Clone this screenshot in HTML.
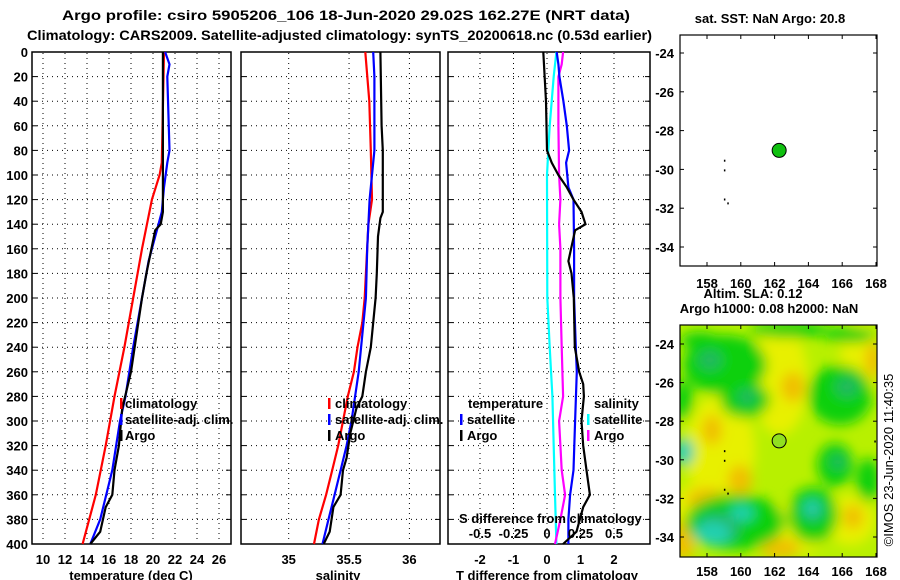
<!DOCTYPE html>
<html><head><meta charset="utf-8"><style>
body{margin:0;background:#fff;}
svg{display:block;font-family:"Liberation Sans",sans-serif;font-weight:bold;font-size:13px;}
</style></head><body>
<svg id="c" width="900" height="580" viewBox="0 0 900 580">
<defs>
<filter id="blur" x="-20%" y="-20%" width="140%" height="140%"><feGaussianBlur stdDeviation="6"/></filter>
<clipPath id="mapclip"><rect x="680" y="325" width="197" height="232"/></clipPath>
</defs>
<text x="62" y="20" textLength="568" lengthAdjust="spacingAndGlyphs" font-size="14">Argo profile: csiro 5905206_106 18-Jun-2020 29.02S 162.27E (NRT data)</text>
<text x="27" y="40" textLength="625" lengthAdjust="spacingAndGlyphs" font-size="14">Climatology: CARS2009. Satellite-adjusted climatology: synTS_20200618.nc (0.53d earlier)</text>
<g id="g"></g>
</svg>
<script>
// temperature profiles (depth, value)
const tClimD=[0,90,100,120,160,200,240,280,320,360,400];
const tClim=[21.0,20.8,20.6,19.9,19.0,18.2,17.4,16.5,15.7,14.8,13.6];
const tSatD=[0,5,10,20,50,80,90,110,130,150,170,200,240,280,300,340,380,400];
const tSat=[21.1,21.3,21.5,21.3,21.4,21.5,21.3,21.0,20.8,20.2,19.6,19.0,18.2,17.5,17.0,16.3,15.2,14.3];
const tArgoD=[0,130,140,145,180,200,230,260,290,320,340,360,370,390,400];
const tArgo=[20.9,20.9,20.7,20.2,19.4,19.0,18.5,18.0,17.2,16.9,16.5,16.3,15.7,15.2,14.3];
// salinity profiles
const sClimD=[0,40,80,120,140,180,200,220,240,260,280,300,320,340,360,380,400];
const sClim=[35.635,35.668,35.68,35.69,35.66,35.64,35.63,35.61,35.57,35.54,35.49,35.45,35.41,35.36,35.31,35.25,35.21];
const sSatD=[0,20,60,80,100,120,160,200,220,240,260,280,300,320,340,360,380,400];
const sSat=[35.70,35.71,35.71,35.71,35.69,35.67,35.65,35.64,35.62,35.60,35.58,35.55,35.52,35.48,35.43,35.38,35.33,35.28];
const sArgoD=[0,60,80,120,130,135,150,180,200,220,240,260,280,290,310,330,340,360,370,390,400];
const sArgo=[35.76,35.77,35.78,35.78,35.78,35.76,35.74,35.73,35.72,35.70,35.68,35.64,35.61,35.56,35.51,35.48,35.45,35.43,35.37,35.34,35.29];
// differences
const dTArgoD=[0,40,80,90,100,110,120,130,140,145,170,180,200,240,260,270,280,300,320,340,360,370,390,400];
const dTArgo=[-0.11,-0.03,0,0.14,0.34,0.59,0.79,1.03,1.15,0.84,0.64,0.73,0.80,0.83,0.96,1.08,1.10,1.03,1.08,1.18,1.28,1.08,0.88,0.48];
const dTSatD=[0,10,20,40,60,80,90,110,120,160,200,240,260,300,340,360,380,400];
const dTSat=[0.29,0.34,0.37,0.49,0.59,0.66,0.57,0.64,0.79,0.81,0.81,0.86,0.89,0.84,0.79,0.69,0.64,0.64];
const dSSatD=[0,20,60,80,100,200,240,280,320,360,400];
const dSSat=[0.07,0.05,0.02,0.01,0,0.002,0.02,0.04,0.05,0.06,0.07];
const dSArgoD=[0,10,20,60,100,120,140,160,200,240,280,300,320,340,360,380,400];
const dSArgo=[0.12,0.11,0.085,0.085,0.09,0.10,0.09,0.10,0.10,0.11,0.12,0.09,0.10,0.11,0.135,0.10,0.06];
const tTicks=[10,12,14,16,18,20,22,24,26];
const sTicks=[35,35.5,36];
const dTTicks=[-2,-1,0,1,2];
const dSTicks=[-0.5,-0.25,0,0.25,0.5];
const dSTickLabels=["-0.5","-0.25","0","0.25","0.5"];
const yTicks=[0,20,40,60,80,100,120,140,160,180,200,220,240,260,280,300,320,340,360,380,400];
const lonTicks=[158,160,162,164,166,168];
const latTicks=[-24,-26,-28,-30,-32,-34];
const argoLon=162.27, argoLat=-29.02;

const NS="http://www.w3.org/2000/svg";
const G=document.getElementById('g');
function el(tag,attrs,parent){const e=document.createElementNS(NS,tag);for(const k in attrs)e.setAttribute(k,attrs[k]);(parent||G).appendChild(e);return e;}
const Y0=52, Y1=544;
const yD=d=>Y0+d*((Y1-Y0)/400);
const xT=v=>43+(v-10)*11;
const xS=v=>288.7+(v-35)*120.7;
const xDT=v=>547+v*33.5;
const xDS=v=>547+v*134;

function panel(x0,x1,name){
  const r=el('rect',{x:x0,y:Y0,width:x1-x0,height:Y1-Y0,fill:'none',stroke:'#000','stroke-width':1.5});
  
  
  yTicks.forEach(d=>{if(d>0&&d<400){const l=el('line',{x1:x0,x2:x1,y1:yD(d),y2:yD(d),stroke:'#000','stroke-dasharray':'1,4','stroke-width':1});
    
    el('line',{x1:x0,x2:x0+5,y1:yD(d),y2:yD(d),stroke:'#000'});el('line',{x1:x1-5,x2:x1,y1:yD(d),y2:yD(d),stroke:'#000'});}});
}
function vgrid(xs){xs.forEach(x=>{const l=el('line',{x1:x,x2:x,y1:Y0+1,y2:Y1-1,stroke:'#000','stroke-dasharray':'1,4'});
  });}
function line(ds,vs,fx,color,name){const p=el('polyline',{points:ds.map((d,i)=>fx(vs[i]).toFixed(1)+','+yD(d).toFixed(1)).join(' '),fill:'none',stroke:color,'stroke-width':2.2});
  }
function txt(x,y,s,name,anchor,size){const t=el('text',{x:x,y:y,'text-anchor':anchor||'start'});if(size)t.setAttribute('font-size',size);t.textContent=s;
  return t;}
function mark(x,y,c){const m=el('rect',{x:x-1,y:y-10,width:2.5,height:11,fill:c});}

const L1=408, L2=424, L3=440;
// Panel 1 temperature
panel(32,231,'temperature-panel');
vgrid(tTicks.map(xT));
yTicks.forEach(d=>txt(28,yD(d)+5,String(d),'y-tick-label','end'));
tTicks.forEach(v=>txt(xT(v),564,String(v),'temp-tick-label','middle'));
txt(131,580,'temperature (deg C)','temperature-axis-title','middle');
line(tClimD,tClim,xT,'#f00','temp-climatology-line');
line(tSatD,tSat,xT,'#00f','temp-satellite-line');
line(tArgoD,tArgo,xT,'#000','temp-argo-line');
mark(121,L1,'#f00');mark(121,L2,'#00f');mark(121,L3,'#000');
txt(125,L1,'climatology','legend-climatology');txt(125,L2,'satellite-adj. clim.','legend-satellite');txt(125,L3,'Argo','legend-argo');

// Panel 2 salinity
panel(241,440,'salinity-panel');
vgrid(sTicks.map(xS));
sTicks.forEach(v=>txt(xS(v),564,String(v),'sal-tick-label','middle'));
txt(338,580,'salinity','salinity-axis-title','middle');
line(sClimD,sClim,xS,'#f00','sal-climatology-line');
line(sSatD,sSat,xS,'#00f','sal-satellite-line');
line(sArgoD,sArgo,xS,'#000','sal-argo-line');
mark(329,L1,'#f00');mark(329,L2,'#00f');mark(329,L3,'#000');
txt(335,L1,'climatology','legend-climatology');txt(335,L2,'satellite-adj. clim.','legend-satellite');txt(335,L3,'Argo','legend-argo');

// Panel 3 differences
panel(448,650,'difference-panel');
vgrid(dTTicks.map(xDT));
dTTicks.forEach(v=>txt(xDT(v),564,String(v),'tdiff-tick-label','middle'));
txt(547,580,'T difference from climatology','tdiff-axis-title','middle');
line(dSSatD,dSSat,xDS,'#0ff','sdiff-satellite-line');
line(dSArgoD,dSArgo,xDS,'#f0f','sdiff-argo-line');
line(dTSatD,dTSat,xDT,'#00f','tdiff-satellite-line');
line(dTArgoD,dTArgo,xDT,'#000','tdiff-argo-line');
txt(468,L1,'temperature','legend-temperature-header');txt(594,L1,'salinity','legend-salinity-header');
mark(461,L2,'#00f');mark(461,L3,'#000');mark(588,L2,'#0ff');mark(588,L3,'#f0f');
txt(467,L2,'satellite','legend-tsat');txt(467,L3,'Argo','legend-targo');txt(594,L2,'satellite','legend-ssat');txt(594,L3,'Argo','legend-sargo');
txt(459,523,'S difference from climatology','sdiff-axis-title');
dSTicks.forEach((v,i)=>txt(xDS(v),538,dSTickLabels[i],'sdiff-tick-label','middle'));

// Maps
const mx=v=>707+(v-158)*16.9;
const my1=v=>53+(-24-v)*19.4;
const my2=v=>344+(-24-v)*19.3;
// bottom map heatmap field
const hm=el('g',{'clip-path':'url(#mapclip)'});

el('rect',{x:680,y:325,width:197,height:232,fill:'#b8f000'},hm);
const fb=el('g',{filter:'url(#blur)'},hm);
const blobs=[
 ['#e8f000',[[780,380,28,55],[720,450,35,55],[860,360,20,40],[790,530,40,25],[850,520,25,25],[690,510,15,25]]],
 ['#f0c000',[[793,387,12,15],[873,360,8,18],[740,480,12,15],[707,500,20,12],[683,540,12,20],[780,548,20,10],[853,517,10,12],[712,430,10,15]]],
 ['#10d010',[[725,365,42,30],[745,400,25,18],[840,395,32,30],[790,330,40,8],[850,335,25,8],[683,400,10,20],[835,465,18,22],[868,480,12,22],[813,515,25,28],[735,522,50,28],[700,340,20,8]]],
 ['#20b860',[[710,360,12,10],[747,397,10,8],[847,387,12,10],[813,510,12,12],[838,462,8,8],[718,528,22,16]]],
 ['#20d0b0',[[684,452,10,14],[713,533,18,12],[742,513,12,8],[812,508,8,8]]]
];
blobs.forEach(b=>b[1].forEach(e=>el('ellipse',{cx:e[0],cy:e[1],rx:e[2],ry:e[3],fill:b[0]},fb)));
[[35,231,'top-map'],[325,232,'bottom-map']].forEach(m=>{
  const r=el('rect',{x:680,y:m[0],width:197,height:m[1],fill:'none',stroke:'#000','stroke-width':1.2});
  
});
[[my1,35,266,288],[my2,325,557,576]].forEach((m,k)=>{
  const fy=m[0], top=m[1], bot=m[2], ly=m[3];
  lonTicks.forEach(v=>{el('line',{x1:mx(v),x2:mx(v),y1:top,y2:top+4,stroke:'#000'});el('line',{x1:mx(v),x2:mx(v),y1:bot-4,y2:bot,stroke:'#000'});
    txt(mx(v),ly,String(v),'lon-tick-label','middle');});
  latTicks.forEach(v=>{el('line',{x1:680,x2:684,y1:fy(v),y2:fy(v),stroke:'#000'});el('line',{x1:873,x2:877,y1:fy(v),y2:fy(v),stroke:'#000'});
    txt(674,fy(v)+5,String(v),'lat-tick-label','end');});
  [[159.0,-29.5],[159.0,-30],[159.0,-31.5],[159.2,-31.7],[167.9,-29.0]].forEach(p=>el('rect',{x:mx(p[0]),y:fy(p[1]),width:1.5,height:2,fill:'#000'}));
  const c=el('circle',{cx:mx(argoLon),cy:fy(argoLat),r:7,fill:k==0?'#10c010':'#90e020',stroke:'#000','stroke-width':1});
  
});
txt(770,23,'sat. SST: NaN Argo: 20.8','sst-map-title','middle');
txt(753,298,'Altim. SLA: 0.12','sla-label','middle');
txt(769,313,'Argo h1000: 0.08 h2000: NaN','sla-map-title','middle');
const cr=txt(0,0,'©IMOS 23-Jun-2020 11:40:35','imos-stamp','middle');
cr.setAttribute('font-weight','normal');
cr.setAttribute('transform','translate(893,460) rotate(-90)');
</script>
</body></html>
